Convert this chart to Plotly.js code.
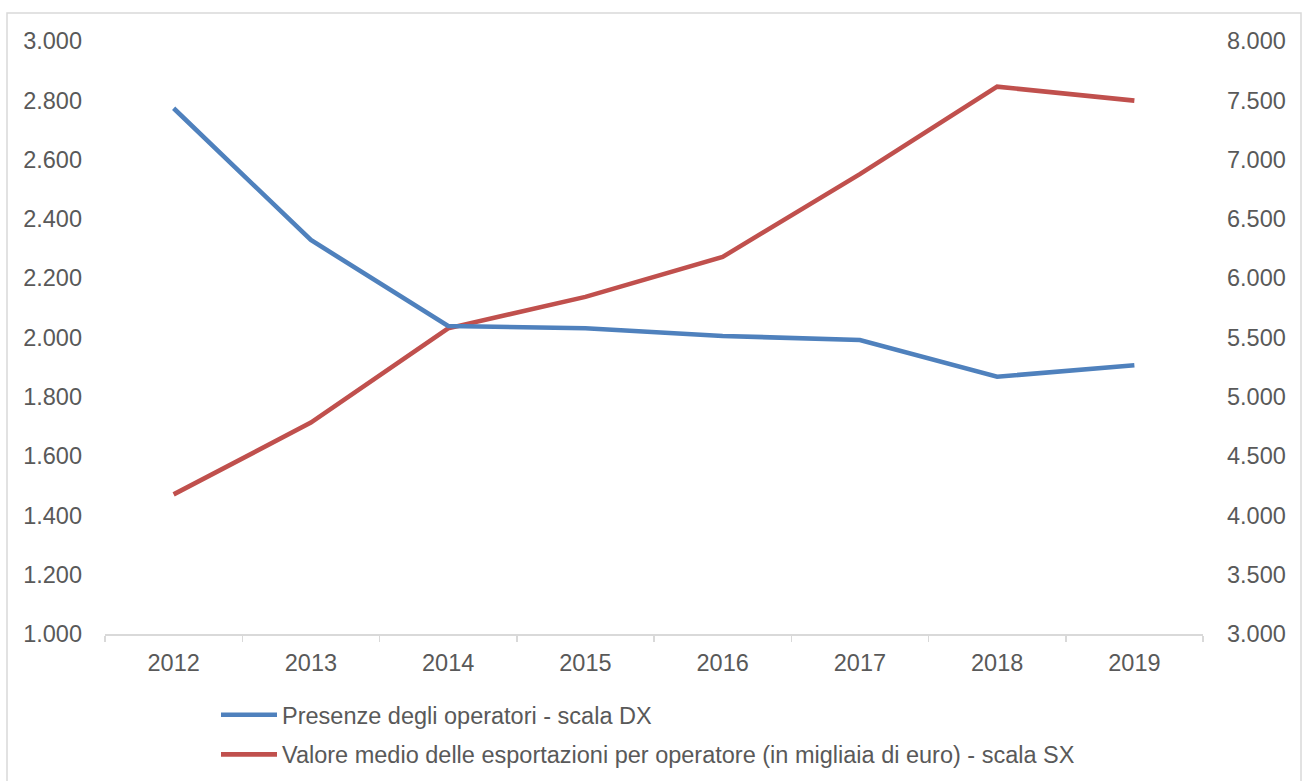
<!DOCTYPE html>
<html>
<head>
<meta charset="utf-8">
<script src="https://cdn.plot.ly/plotly-3.0.1.min.js"></script>
<style>html,body{margin:0;padding:0;background:#fff;}#chart{width:1302px;height:781px;}</style>
</head>
<body>
<div id="chart"></div>
<script>
const years = ["2012", "2013", "2014", "2015", "2016", "2017", "2018", "2019"];
const presenzeOperatori = [7433, 6322, 5597, 5578, 5513, 5479, 5169, 5266];
const valoreMedio = [1471, 1713, 2031, 2137, 2272, 2551, 2846, 2799];
const nomePresenze = "Presenze degli operatori - scala DX";
const nomeValore = "Valore medio delle esportazioni per operatore (in migliaia di euro) - scala SX";

const W = 1302, H = 781;
const mL = 105, mR = 99, mT = 41, mB = 147;
const pw = W - mL - mR, ph = H - mT - mB;
const px = v => (v - mL) / pw;
const py = v => (H - mB - v) / ph;

const font = {family: "Liberation Sans, Arial, sans-serif", size: 23.5, color: "#595959"};

const traces = [
  {x: years, y: presenzeOperatori, yaxis: "y2", type: "scatter", mode: "lines", name: nomePresenze,
   legendgroup: "a", line: {color: "#4F81BD", width: 4.6}},
  {x: years, y: valoreMedio, yaxis: "y", type: "scatter", mode: "lines", name: nomeValore,
   legendgroup: "b", line: {color: "#C0504D", width: 4.6}}
];

const layout = {
  width: W, height: H,
  margin: {l: mL, r: mR, t: mT, b: mB, pad: 0, autoexpand: false},
  paper_bgcolor: "#fff", plot_bgcolor: "#fff",
  separators: ",.",
  font: font,
  showlegend: true,
  legend: {x: px(216), xanchor: "left", yref: "container", y: 1 - 693 / H, yanchor: "top", orientation: "v",
           font: font, tracegroupgap: 6, bgcolor: "rgba(0,0,0,0)", itemwidth: 56},
  xaxis: {type: "category", range: [-0.5, 7.5], showgrid: false, showline: true, linecolor: "#D9D9D9", linewidth: 1.5,
          ticks: "outside", tickson: "boundaries", ticklen: 6, tickcolor: "#D9D9D9", tickwidth: 1.5,
          tickfont: font, zeroline: false, fixedrange: true, ticklabelstandoff: 7, automargin: false},
  yaxis: {range: [1000, 3000], dtick: 200, tick0: 1000, tickformat: ",d", showgrid: false, showline: false,
          zeroline: false, ticks: "", tickfont: font, ticklabelstandoff: 22, automargin: false},
  yaxis2: {range: [3000, 8000], dtick: 500, tick0: 3000, tickformat: ",d", overlaying: "y", side: "right",
           showgrid: false, showline: false, zeroline: false, ticks: "", tickfont: font, ticklabelstandoff: 23, automargin: false},
  shapes: [
    {type: "rect", xref: "paper", yref: "paper", x0: px(7), x1: px(1301), y0: py(800), y1: py(13),
     line: {color: "#D9D9D9", width: 1.5}, fillcolor: "rgba(0,0,0,0)", layer: "below"}
  ]
};

Plotly.newPlot("chart", traces, layout, {displayModeBar: false, staticPlot: true});
</script>
</body>
</html>
